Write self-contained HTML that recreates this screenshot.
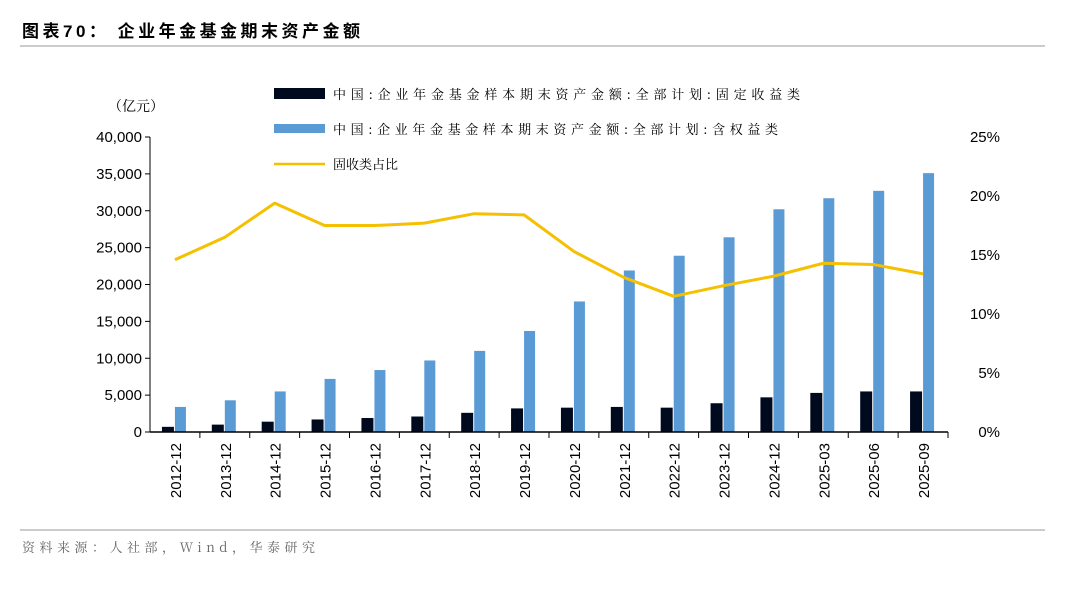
<!DOCTYPE html>
<html><head><meta charset="utf-8"><style>
body{margin:0;background:#fff;}
svg text{font-family:"Liberation Sans","Noto Sans CJK SC",sans-serif;}
svg text.serif{font-family:"Noto Serif CJK SC","Liberation Serif",serif;}
</style></head><body>
<svg width="1080" height="585" xmlns="http://www.w3.org/2000/svg">
<text x="22" y="37" font-size="17" font-weight="bold" fill="#000" textLength="338" lengthAdjust="spacing">图表70：  企业年金基金期末资产金额</text>
<line x1="20" y1="46" x2="1045" y2="46" stroke="#999" stroke-width="1"/>
<line x1="20" y1="530" x2="1045" y2="530" stroke="#999" stroke-width="1"/>
<text class="serif" x="22" y="552" font-size="13" fill="#666" textLength="293" lengthAdjust="spacing">资料来源：人社部，Wind，华泰研究</text>
<text class="serif" x="108" y="111" font-size="14" fill="#000">（亿元）</text>
<g id="legend">
<rect x="274" y="88" width="51" height="11" fill="#000a1f"/>
<text class="serif" x="333" y="99" font-size="13" textLength="467" lengthAdjust="spacing">中国:企业年金基金样本期末资产金额:全部计划:固定收益类</text>
<rect x="274" y="124" width="51" height="9" fill="#5b9bd5"/>
<text class="serif" x="333" y="134" font-size="13" textLength="445" lengthAdjust="spacing">中国:企业年金基金样本期末资产金额:全部计划:含权益类</text>
<line x1="274" y1="164" x2="325" y2="164" stroke="#f5c000" stroke-width="2.5"/>
<text class="serif" x="333" y="169" font-size="13">固收类占比</text>
</g>
<g id="plot"></g>
</svg>
<script>
const categories=["2012-12","2013-12","2014-12","2015-12","2016-12","2017-12","2018-12","2019-12","2020-12","2021-12","2022-12","2023-12","2024-12","2025-03","2025-06","2025-09"];
const fixedIncome=[700,1000,1400,1700,1900,2100,2600,3200,3300,3400,3300,3900,4700,5300,5500,5500];
const equity=[3400,4300,5500,7200,8400,9700,11000,13700,17700,21900,23900,26400,30200,31700,32700,35100];
const ratio=[14.6,16.5,19.4,17.5,17.5,17.7,18.5,18.4,15.3,13.1,11.5,12.4,13.2,14.3,14.2,13.4];
const leftTicks=[0,5000,10000,15000,20000,25000,30000,35000,40000];
const rightTicks=[0,5,10,15,20,25];
const NS="http://www.w3.org/2000/svg";
const g=document.getElementById('plot');
const X0=150,X1=948,Y0=432,Y1=137;
const bw=(X1-X0)/categories.length;
const yL=v=>Y0-(v/40000)*(Y0-Y1);
const yR=v=>Y0-(v/25)*(Y0-Y1);
const xC=i=>X0+bw*(i+0.5);
function mk(t,a){const e=document.createElementNS(NS,t);for(const k in a)e.setAttribute(k,a[k]);g.appendChild(e);return e;}
let e;
leftTicks.forEach(v=>{
 e=mk('line',{x1:X0-5,x2:X0,y1:yL(v),y2:yL(v),stroke:'#000'});
 
 
 e=mk('text',{x:X0-8,y:yL(v)+5,'font-size':15,'text-anchor':'end'});e.textContent=v.toLocaleString('en-US');
 
 
});
rightTicks.forEach(v=>{
 e=mk('text',{x:1000,y:yR(v)+5,'font-size':15,'text-anchor':'end'});e.textContent=v+'%';
 
 
});
categories.forEach((c,i)=>{
 const x=xC(i);
 e=mk('rect',{x:x-13,y:yL(fixedIncome[i]),width:12,height:Y0-yL(fixedIncome[i]),fill:'#000a1f'});
 
 
 e=mk('rect',{x:x,y:yL(equity[i]),width:11,height:Y0-yL(equity[i]),fill:'#5b9bd5'});
 
 
 e=mk('line',{x1:X0+bw*(i+1),x2:X0+bw*(i+1),y1:Y0,y2:Y0+6,stroke:'#000'});
 
 
 e=mk('text',{x:0,y:0,'font-size':15,'text-anchor':'end',transform:`translate(${x+6},443) rotate(-90)`});e.textContent=c;
 
 
});
e=mk('line',{x1:X0,x2:X0,y1:Y1,y2:Y0,stroke:'#000'});


e=mk('line',{x1:X0,x2:X1,y1:Y0,y2:Y0,stroke:'#000','stroke-width':1.5});


e=mk('polyline',{points:ratio.map((v,i)=>xC(i)+','+yR(v)).join(' '),fill:'none',stroke:'#f5c000','stroke-width':3,'stroke-linejoin':'round'});


</script>
</body></html>
